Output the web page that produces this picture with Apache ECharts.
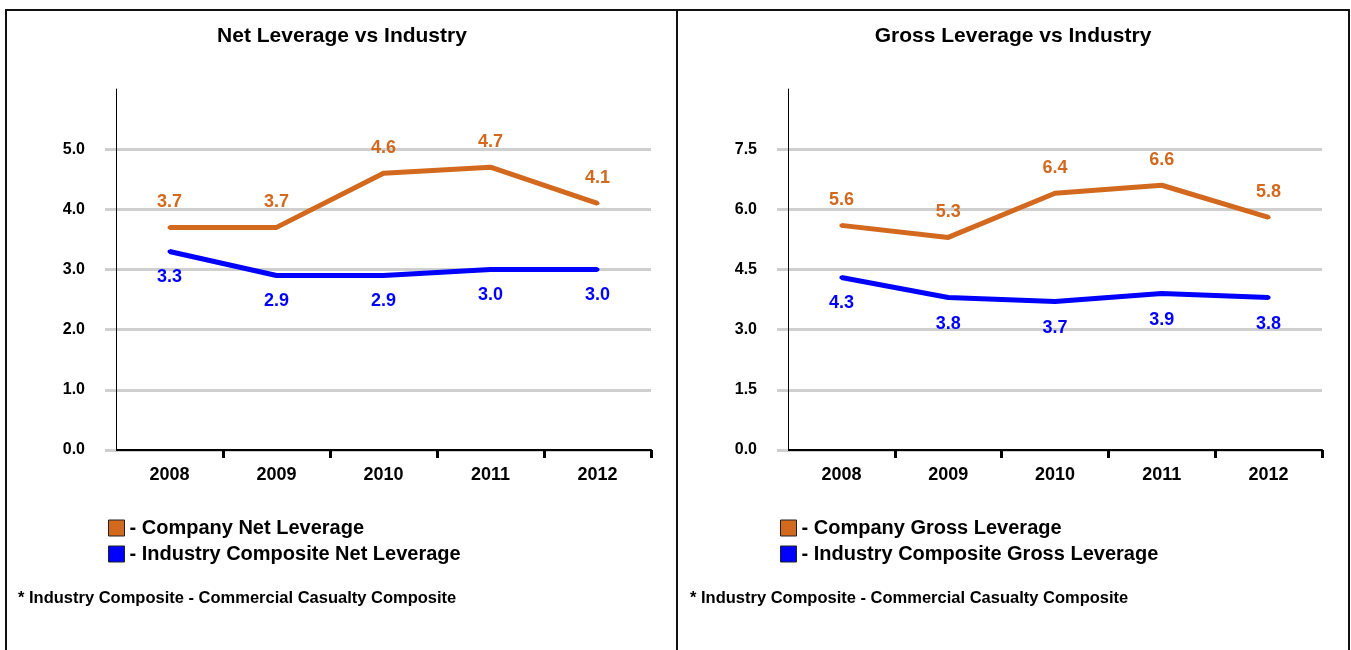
<!DOCTYPE html>
<html>
<head>
<meta charset="utf-8">
<title>Net and Gross Leverage vs Industry</title>
<script src="https://cdn.jsdelivr.net/npm/echarts@6/dist/echarts.min.js"></script>
<style>
  html, body { margin: 0; padding: 0; background: #fff; }
  #chart { width: 1351px; height: 650px; }
</style>
</head>
<body>
<div id="chart"></div>
<script>
// Years on the category axis
const years = ['2008', '2009', '2010', '2011', '2012'];

// Net leverage (left panel)
const companyNet = [3.7, 3.7, 4.6, 4.7, 4.1];
const industryNet = [3.3, 2.9, 2.9, 3.0, 3.0];
const netTicks = [0, 1, 2, 3, 4, 5];

// Gross leverage (right panel)
const companyGross = [5.6, 5.3, 6.4, 6.6, 5.8];
const industryGross = [4.3, 3.8, 3.7, 3.9, 3.8];
const grossTicks = [0, 1.5, 3, 4.5, 6, 7.5];

const FONT = '"Liberation Sans", Arial, Helvetica, sans-serif';
const ORANGE = '#D2691E';
const BLUE = '#0000FF';
const GRID_GRAY = '#cfcfcf';

function valueAxis(gridIndex, max, interval, ticks) {
  return {
    type: 'value',
    gridIndex: gridIndex,
    min: 0,
    max: max,
    interval: interval,
    axisLine: { show: true, lineStyle: { color: '#000', width: 1 } },
    axisTick: {
      show: true, inside: false, length: 11,
      customValues: ticks,
      lineStyle: { color: GRID_GRAY, width: 3 }
    },
    axisLabel: {
      customValues: ticks,
      margin: 31,
      color: '#000',
      fontFamily: FONT,
      fontWeight: 'bold',
      fontSize: 16,
      formatter: v => v.toFixed(1)
    },
    splitLine: {
      show: true,
      lineStyle: {
        color: [GRID_GRAY, GRID_GRAY, GRID_GRAY, GRID_GRAY, GRID_GRAY, GRID_GRAY, 'rgba(0,0,0,0)'],
        width: 3
      }
    }
  };
}

function categoryAxis(gridIndex) {
  return {
    type: 'category',
    gridIndex: gridIndex,
    data: years,
    boundaryGap: true,
    axisLine: { show: true, lineStyle: { color: '#000', width: 2 } },
    axisTick: {
      show: true, length: 8,
      interval: i => i > 0,
      lineStyle: { color: '#000', width: 3 }
    },
    axisLabel: {
      margin: 16,
      color: '#000',
      fontFamily: FONT,
      fontWeight: 'bold',
      fontSize: 18
    },
    splitLine: { show: false }
  };
}

function lineSeries(name, data, axisIndex, color, above) {
  return {
    type: 'line',
    name: name,
    data: data,
    xAxisIndex: axisIndex,
    yAxisIndex: axisIndex,
    symbol: 'circle',
    symbolSize: 4,
    showSymbol: true,
    lineStyle: { color: color, width: 5 },
    itemStyle: { color: color },
    label: {
      show: true,
      position: above ? 'top' : 'bottom',
      distance: above ? 14 : 15,
      color: color,
      fontFamily: FONT,
      fontWeight: 'bold',
      fontSize: 18,
      formatter: p => Number(p.value).toFixed(1)
    },
    emphasis: { disabled: true },
    z: above ? 4 : 3
  };
}

function legendBlock(left, names) {
  return {
    orient: 'vertical',
    left: left,
    top: 518,
    padding: 0,
    itemGap: 6,
    itemWidth: 16,
    itemHeight: 16,
    icon: 'rect',
    itemStyle: { borderColor: '#222', borderWidth: 1 },
    data: names,
    formatter: n => '- ' + n,
    selectedMode: false,
    textStyle: {
      color: '#000',
      fontFamily: FONT,
      fontWeight: 'bold',
      fontSize: 20,
      lineHeight: 16,
      padding: [0, 0, 0, 0]
    }
  };
}

const chart = echarts.init(document.getElementById('chart'), null, { renderer: 'canvas' });

chart.setOption({
  backgroundColor: '#fff',
  animation: false,
  title: [
    {
      text: 'Net Leverage vs Industry', left: 342, top: 26, textAlign: 'center', padding: 0,
      textStyle: { fontFamily: FONT, fontWeight: 'bold', fontSize: 21, color: '#000' }
    },
    {
      text: 'Gross Leverage vs Industry', left: 1013, top: 26, textAlign: 'center', padding: 0,
      textStyle: { fontFamily: FONT, fontWeight: 'bold', fontSize: 21, color: '#000' }
    },
    {
      text: '* Industry Composite - Commercial Casualty Composite', left: 18, top: 590, padding: 0,
      textStyle: { fontFamily: FONT, fontWeight: 'bold', fontSize: 16.5, color: '#000' }
    },
    {
      text: '* Industry Composite - Commercial Casualty Composite', left: 690, top: 590, padding: 0,
      textStyle: { fontFamily: FONT, fontWeight: 'bold', fontSize: 16.5, color: '#000' }
    }
  ],
  legend: [
    legendBlock(108, ['Company Net Leverage', 'Industry Composite Net Leverage']),
    legendBlock(780, ['Company Gross Leverage', 'Industry Composite Gross Leverage'])
  ],
  grid: [
    { left: 116, right: 700, top: 89, bottom: 200, containLabel: false },
    { left: 788, right: 29, top: 89, bottom: 200, containLabel: false }
  ],
  xAxis: [categoryAxis(0), categoryAxis(1)],
  yAxis: [valueAxis(0, 6, 1, netTicks), valueAxis(1, 9, 1.5, grossTicks)],
  series: [
    lineSeries('Company Net Leverage', companyNet, 0, ORANGE, true),
    lineSeries('Industry Composite Net Leverage', industryNet, 0, BLUE, false),
    lineSeries('Company Gross Leverage', companyGross, 1, ORANGE, true),
    lineSeries('Industry Composite Gross Leverage', industryGross, 1, BLUE, false)
  ],
  graphic: [
    {
      type: 'rect', silent: true, z: 100,
      shape: { x: 6, y: 10, width: 1343, height: 660 },
      style: { fill: null, stroke: '#111', lineWidth: 2 }
    },
    {
      type: 'line', silent: true, z: 100,
      shape: { x1: 677, y1: 10, x2: 677, y2: 650 },
      style: { stroke: '#111', lineWidth: 2 }
    }
  ]
});
</script>
</body>
</html>
